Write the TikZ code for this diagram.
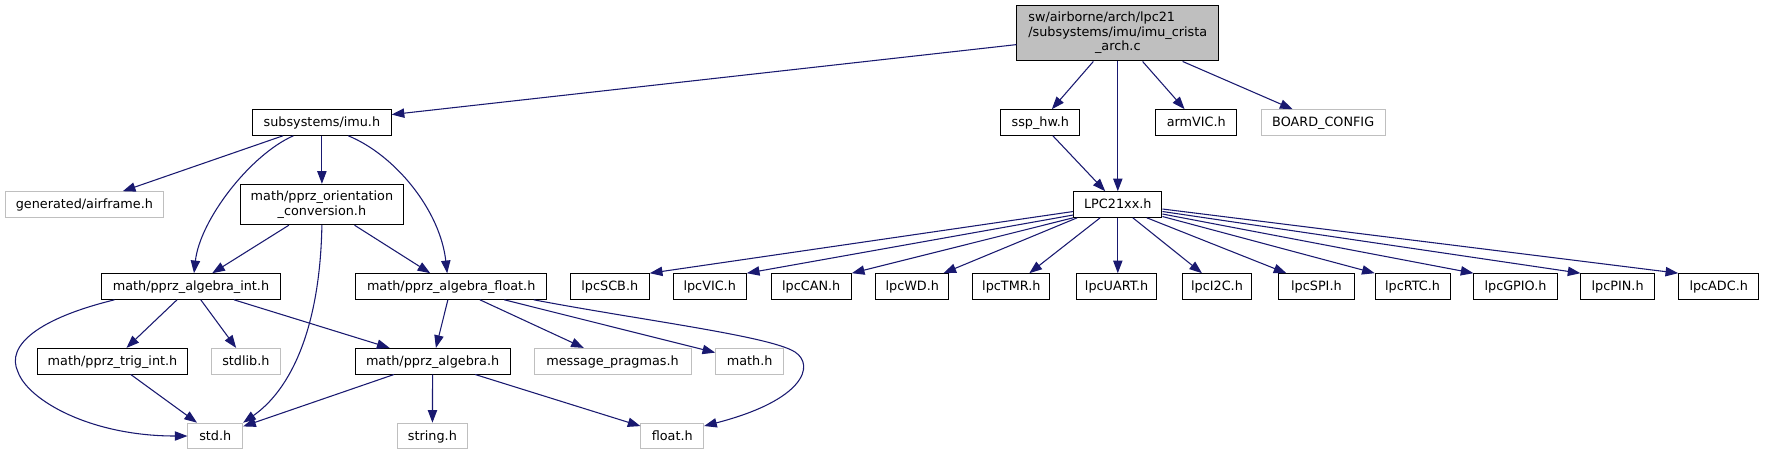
\documentclass[tikz,border=0pt]{standalone}
\usepackage{fontspec}
\newfontfamily\dv{DejaVu Sans}
\usetikzlibrary{arrows.meta,calc}
\definecolor{mblue}{HTML}{191970}
\definecolor{gry}{HTML}{BFBFBF}
\newcommand\nfont{\dv\fontsize{9.6pt}{10.8pt}\selectfont}
\tikzset{
  nd/.style 2 args={draw=black, line width=0.75pt, minimum width=#1*0.75pt,
    minimum height=#2*0.75pt, inner sep=0pt, font=\nfont,
    text height=0.8em, text depth=0.2em},
  gnd/.style 2 args={nd={#1}{#2}, draw=gry},
  edge/.style={draw=mblue, line width=0.8pt, -{Triangle[length=9.5pt,width=7pt]}},
}
\begin{document}
\begin{tikzpicture}[x=0.75pt,y=-0.75pt]
\fill[white] (0,0) rectangle (1765,455);
\useasboundingbox (0,0) rectangle (1765,455);

% nodes
\node[nd={201.7}{55.3}, fill=gry, text height=, text depth=] (main) at (1117.8,33.3)
  {\begin{tabular}{@{}l@{}}sw/airborne/arch/lpc21\\/subsystems/imu/imu\_crista\\\multicolumn{1}{@{}c@{}}{\_arch.c}\end{tabular}};
\node[nd={138.5}{26}] (imu) at (321.9,122.3) {subsystems/imu.h};
\node[nd={78.7}{25.6}] (ssp) at (1040.3,122.5) {ssp\_hw.h};
\node[nd={81.3}{25.6}] (armvic) at (1196.3,122.5) {armVIC.h};
\node[gnd={124.3}{25.6}] (board) at (1323.2,122.5) {BOARD\_CONFIG};
\node[gnd={158.8}{25.6}] (airframe) at (84.4,204.5) {generated/airframe.h};
\node[nd={163.8}{40.4}, align=center, text height=, text depth=] (orient) at (321.9,204.5)
  {math/pprz\_orientation\\\_conversion.h};
\node[nd={88.3}{25.6}] (lpc21) at (1117.8,204.5) {LPC21xx.h};

\node[nd={179.1}{25.6}] (algint) at (191,286.5) {math/pprz\_algebra\_int.h};
\node[nd={190.6}{25.6}] (algfloat) at (451.2,286.5) {math/pprz\_algebra\_float.h};
\node[nd={79}{25.6}] (scb) at (609.8,286.5) {lpcSCB.h};
\node[nd={73.3}{25.6}] (vic) at (709.7,286.5) {lpcVIC.h};
\node[nd={80.3}{25.6}] (can) at (811.2,286.5) {lpcCAN.h};
\node[nd={73.3}{25.6}] (wd) at (912.3,286.5) {lpcWD.h};
\node[nd={76.9}{25.6}] (tmr) at (1011.3,286.5) {lpcTMR.h};
\node[nd={80.6}{25.6}] (uart) at (1116.6,286.5) {lpcUART.h};
\node[nd={69.7}{25.6}] (i2c) at (1217,286.5) {lpcI2C.h};
\node[nd={75.9}{25.6}] (spi) at (1316.4,286.5) {lpcSPI.h};
\node[nd={74.8}{25.6}] (rtc) at (1412.6,286.5) {lpcRTC.h};
\node[nd={83.1}{25.6}] (gpio) at (1515.5,286.5) {lpcGPIO.h};
\node[nd={73.3}{25.6}] (pin) at (1617.6,286.5) {lpcPIN.h};
\node[nd={80}{25.6}] (adc) at (1718.7,286.5) {lpcADC.h};

\node[nd={150.8}{25.6}] (trig) at (112.5,361.2) {math/pprz\_trig\_int.h};
\node[gnd={68.5}{25.6}] (stdlib) at (245.9,361.2) {stdlib.h};
\node[nd={155}{25.6}] (alg) at (432.6,361.2) {math/pprz\_algebra.h};
\node[gnd={157}{25.6}] (msg) at (612.5,361.2) {message\_pragmas.h};
\node[gnd={68}{25.6}] (mathh) at (749.7,361.2) {math.h};

\node[gnd={54.7}{25.6}] (std) at (215.3,436) {std.h};
\node[gnd={70.5}{25.6}] (string) at (432.4,436) {string.h};
\node[gnd={62.7}{25.6}] (float) at (672.3,436) {float.h};

% edges from main
\draw[edge] (main) -- (imu);
\draw[edge] (main) -- (ssp);
\draw[edge] (main) -- (lpc21);
\draw[edge] (main) -- (armvic);
\draw[edge] (main) -- (board);
\draw[edge] (ssp) -- (lpc21);

% imu
\draw[edge] (imu) -- (airframe);
\draw[edge] (imu) -- (orient);
\draw[edge] ($(imu.south)+(-28.6,0)$) .. controls (250,155) and (200,220) .. ($(algint.north)+(3,0)$);
\draw[edge] ($(imu.south)+(26.4,0)$) .. controls (395,155) and (440,210) .. ($(algfloat.north)+(-4,0)$);

% orientation
\draw[edge] (orient) -- (algint);
\draw[edge] (orient) -- (algfloat);
\draw[edge] (orient.south) .. controls (320,330) and (290,390) .. (std.north east);

% algebra int
\draw[edge] ($(algint.south west)+(13.6,0)$) .. controls (40,318) and (5,345) .. (18,372)
  .. controls (28,400) and (90,436) .. (std.west);
\draw[edge] (algint) -- (trig);
\draw[edge] (algint) -- (stdlib);
\draw[edge] (algint) -- (alg);
\draw[edge] (trig) -- (std);

% algebra float
\draw[edge] (algfloat) -- (alg);
\draw[edge] (algfloat) -- (msg);
\draw[edge] (algfloat) -- (mathh);
\draw[edge] ($(algfloat.south east)+(-13.2,0)$) .. controls (640,320) and (770,336) .. (795,352)
  .. controls (815,365) and (805,400) .. ($(float.east)+(0,-10)$);

% algebra
\draw[edge] (alg) -- (std);
\draw[edge] (alg) -- (string);
\draw[edge] (alg) -- (float);

% LPC21xx fan
\draw[edge] ($(lpc21.west)+(0,7)$) -- (scb.north east);
\draw[edge] ($(lpc21.west)+(0,10.5)$) -- (vic.north east);
\draw[edge] (lpc21.south west) -- (can.north east);
\draw[edge] ($(lpc21.south west)+(4,0)$) -- ($(wd.north east)+(-6,0)$);
\draw[edge] ($(lpc21.south west)+(27,0)$) -- ($(tmr.north)+(18,0)$);
\draw[edge] (lpc21.south) -- (lpc21.south |- uart.north);
\draw[edge] ($(lpc21.south)+(15,0)$) -- ($(i2c.north)+(-15,0)$);
\draw[edge] ($(lpc21.south)+(29,0)$) -- ($(spi.north)+(-30,0)$);
\draw[edge] ($(lpc21.east)+(0,12)$) -- (rtc.north west);
\draw[edge] ($(lpc21.east)+(0,9.5)$) -- (gpio.north west);
\draw[edge] ($(lpc21.east)+(0,7)$) -- (pin.north west);
\draw[edge] ($(lpc21.east)+(0,4.5)$) -- (adc.north west);
\end{tikzpicture}
\end{document}
